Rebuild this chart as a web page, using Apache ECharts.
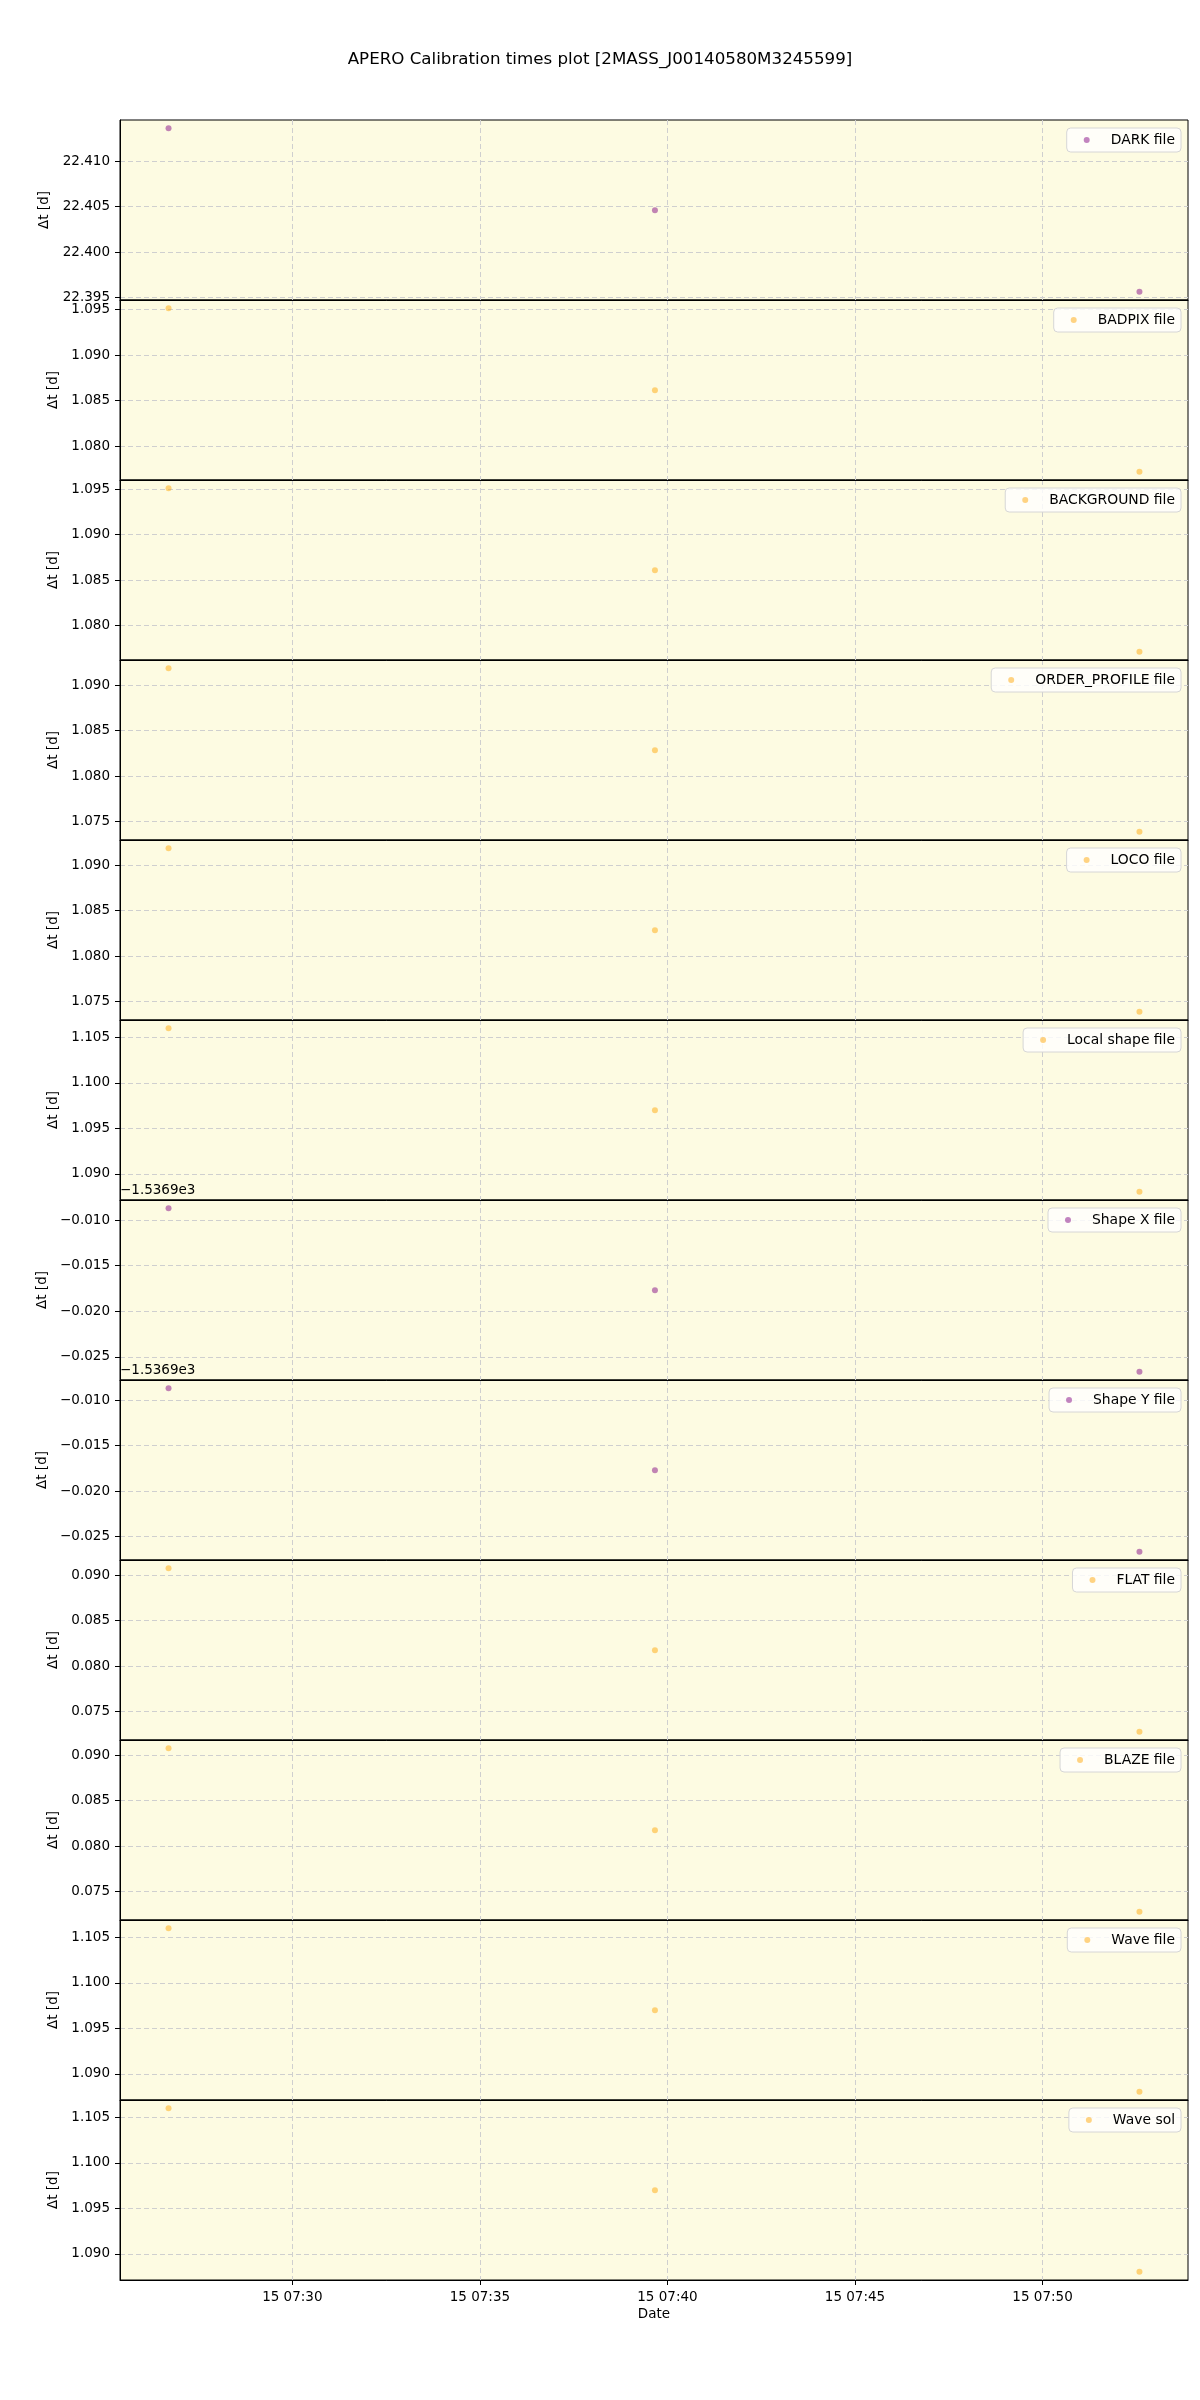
<!DOCTYPE html>
<html>
<head>
<meta charset="utf-8">
<script src="https://cdn.jsdelivr.net/npm/echarts@6/dist/echarts.min.js"></script>
<style>
html,body{margin:0;padding:0;background:#fff;}
#chart{width:1200px;height:2400px;}
</style>
</head>
<body>
<div id="chart"></div>
<script>
// ---------------- data ----------------
const titleText = 'APERO Calibration times plot [2MASS_J00140580M3245599]';
const obsTimes = ['2020-10-15T07:26:42Z', '2020-10-15T07:39:40Z', '2020-10-15T07:52:35Z'];
const seriesNames = ['DARK file', 'BADPIX file', 'BACKGROUND file', 'ORDER_PROFILE file', 'LOCO file',
  'Local shape file', 'Shape X file', 'Shape Y file', 'FLAT file', 'BLAZE file', 'Wave file', 'Wave sol'];
const darkFile = [22.41362, 22.40462, 22.39565];
const badpixFile = [1.09515, 1.08615, 1.07718];
const backgroundFile = [1.09510, 1.08610, 1.07713];
const orderProfileFile = [1.09186, 1.08286, 1.07389];
const locoFile = [1.09186, 1.08286, 1.07389];
const localShapeFile = [1.10600, 1.09700, 1.08803];
const shapeXFile = [-1536.90868, -1536.91768, -1536.92665];
const shapeYFile = [-1536.90869, -1536.91769, -1536.92666];
const flatFile = [0.09076, 0.08176, 0.07279];
const blazeFile = [0.09075, 0.08175, 0.07278];
const waveFile = [1.10601, 1.09701, 1.08804];
const waveSol = [1.10601, 1.09701, 1.08804];
const seriesValues = [darkFile, badpixFile, backgroundFile, orderProfileFile, locoFile,
  localShapeFile, shapeXFile, shapeYFile, flatFile, blazeFile, waveFile, waveSol];
// axis offsets (matplotlib offset text) per panel
const yOffsets = [0, 0, 0, 0, 0, 0, -1536.9, -1536.9, 0, 0, 0, 0];
const yOffsetLabels = ['', '', '', '', '', '', '\u22121.5369e3', '\u22121.5369e3', '', '', '', ''];
const yAxisTitle = '\u0394t [d]';
const xAxisTitle = 'Date';
const yTickStep = 0.005;
const xTickStepMin = 5;

// ---------------- styles / layout ----------------
const PURPLE = 'rgba(128,0,128,0.6)';
const ORANGE = 'rgba(255,165,0,0.6)';
const seriesColors = [PURPLE, ORANGE, ORANGE, ORANGE, ORANGE, ORANGE, PURPLE, PURPLE, ORANGE, ORANGE, ORANGE, ORANGE];
const FONT = 'DejaVu Sans';
const FS = 13.5;
const LFS = 13.9;
const LEFT = 120, RIGHT = 12, TOP = 120, PH = 180;
const BG = '#fdfbe2';
const GRIDC = '#cfcfcf';

function fmtNum(v) { return v.toFixed(3).replace('-', '\u2212'); }
function pad2(n) { return (n < 10 ? '0' : '') + n; }
function fmtTime(ms) {
  const d = new Date(ms);
  return d.getUTCDate() + ' ' + pad2(d.getUTCHours()) + ':' + pad2(d.getUTCMinutes());
}

const tms = obsTimes.map(t => Date.parse(t));
const tMin = Math.min(...tms), tMax = Math.max(...tms);
const xMin = tMin - 0.05 * (tMax - tMin), xMax = tMax + 0.05 * (tMax - tMin);
const step = xTickStepMin * 60000;
const xTicks = [];
for (let t = Math.ceil(xMin / step) * step; t <= xMax; t += step) xTicks.push(t);

const grids = [], xAxes = [], yAxes = [], series = [], legends = [], graphics = [];
const n = seriesNames.length;
for (let i = 0; i < n; i++) {
  const top = TOP + i * PH;
  const vals = seriesValues[i];
  const off = yOffsets[i];
  const vMin = Math.min(...vals), vMax = Math.max(...vals);
  const yMin = vMin - 0.05 * (vMax - vMin), yMax = vMax + 0.05 * (vMax - vMin);
  const yTicks = [];
  const rMin = yMin - off, rMax = yMax - off;
  for (let k = Math.ceil(rMin / yTickStep - 1e-9); k * yTickStep <= rMax + 1e-12; k++) yTicks.push(k * yTickStep + off);
  const sampleLabel = fmtNum(yTicks[0] - off);
  const nameGap = 58 + (sampleLabel.length - 5) * 9.5;
  const isBottom = i === n - 1;

  grids.push({ left: LEFT, right: RIGHT, top: top, height: PH, show: true, backgroundColor: BG,
    borderColor: '#000', borderWidth: 1, containLabel: false });
  xAxes.push({
    type: 'value', gridIndex: i, min: xMin, max: xMax,
    name: isBottom ? xAxisTitle : '', nameLocation: 'middle', nameGap: 27,
    nameTextStyle: { fontFamily: FONT, fontSize: FS, color: '#000' },
    axisLine: { show: true, onZero: false, lineStyle: { color: '#000', width: 1 } },
    axisTick: { show: isBottom, length: 5, inside: false, customValues: xTicks, lineStyle: { color: '#000' } },
    axisLabel: { show: isBottom, customValues: xTicks, margin: 10, fontFamily: FONT, fontSize: FS, color: '#000',
      formatter: v => fmtTime(v) },
    splitLine: { show: true, lineStyle: { color: GRIDC, type: [5, 3], width: 1 } }
  });
  yAxes.push({
    type: 'value', gridIndex: i, min: yMin, max: yMax, scale: true,
    name: yAxisTitle, nameLocation: 'middle', nameGap: nameGap,
    nameTextStyle: { fontFamily: FONT, fontSize: FS, color: '#000' },
    axisLine: { show: true, onZero: false, lineStyle: { color: '#000', width: 1 } },
    axisTick: { show: true, length: 5, inside: false, customValues: yTicks, lineStyle: { color: '#000' } },
    axisLabel: { show: true, customValues: yTicks, margin: 10, fontFamily: FONT, fontSize: FS, color: '#000',
      formatter: v => fmtNum(v - off) },
    splitLine: { show: true, lineStyle: { color: GRIDC, type: [5, 3], width: 1 } }
  });
  series.push({
    type: 'scatter', name: seriesNames[i], xAxisIndex: i, yAxisIndex: i,
    data: tms.map((t, j) => [t, vals[j]]),
    symbol: 'circle', symbolSize: 6,
    itemStyle: { color: seriesColors[i] },
    emphasis: { disabled: true }
  });
  legends.push({
    data: [{ name: seriesNames[i], icon: 'circle' }], top: top + 8, right: 19, orient: 'vertical',
    selectedMode: false, itemWidth: 30, itemHeight: 6,
    padding: [5, 6, 5, 17], backgroundColor: 'rgba(255,255,255,0.8)', borderColor: '#d6d6d6', borderWidth: 1,
    borderRadius: 4,
    textStyle: { fontFamily: FONT, fontSize: LFS, color: '#000', padding: [0, 0, 0, 4] }
  });
  if (yOffsetLabels[i]) {
    graphics.push({ type: 'text', left: LEFT, top: top - 17,
      style: { text: yOffsetLabels[i], font: FS + 'px "' + FONT + '"', fill: '#000' } });
  }
}

const chart = echarts.init(document.getElementById('chart'), null, { renderer: 'canvas' });
chart.setOption({
  backgroundColor: '#ffffff',
  animation: false,
  title: { text: titleText, left: 'center', top: 46,
    textStyle: { fontFamily: FONT, fontSize: 16.7, fontWeight: 'normal', color: '#000' } },
  grid: grids, xAxis: xAxes, yAxis: yAxes, series: series, legend: legends, graphic: graphics
});
</script>
</body>
</html>
